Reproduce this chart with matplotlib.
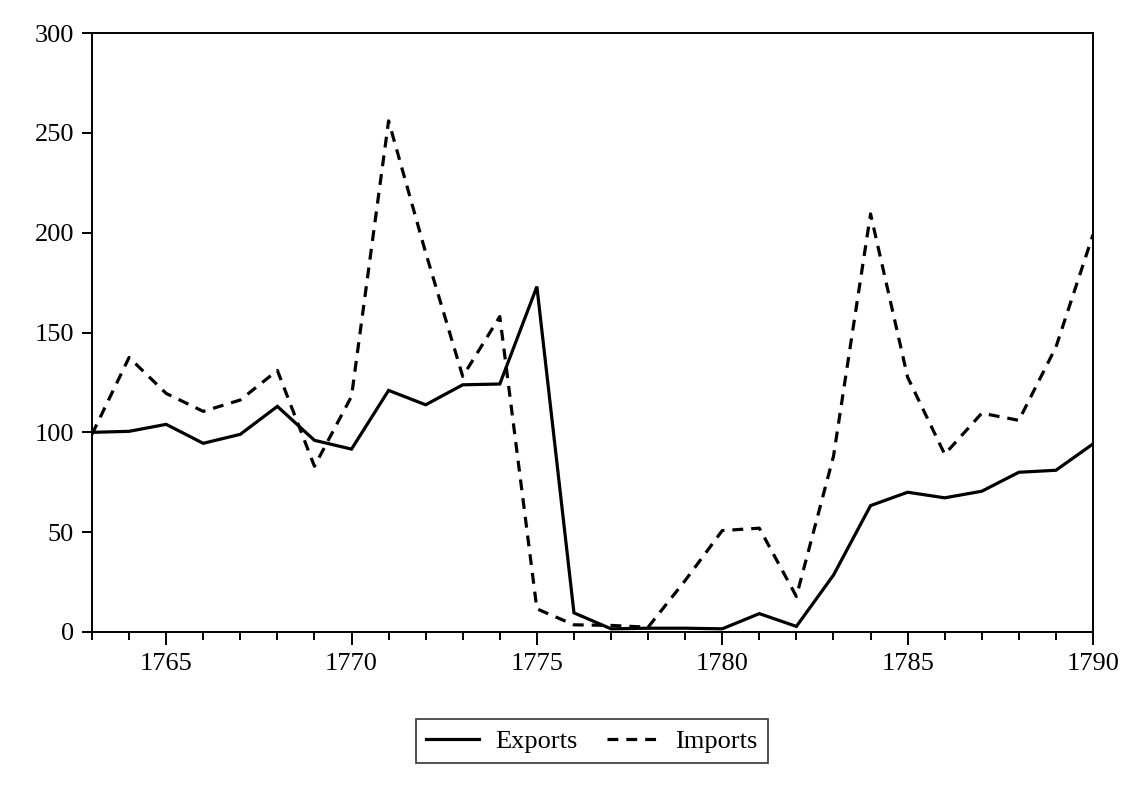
import matplotlib
matplotlib.use("Agg")
import matplotlib.pyplot as plt
from matplotlib.ticker import MultipleLocator

years = list(range(1763, 1791))
exports = [100, 100.5, 104, 94.5, 99, 113, 96, 91.6, 121, 113.8, 123.8, 124.2, 173,
           9.6, 1.6, 1.9, 1.9, 1.6, 9.2, 2.8, 28.5, 63.3, 70, 67.2, 70.5, 80, 81, 94.2]
imports = [99, 137.5, 119.5, 110.5, 116.2, 131, 83, 118, 256, 190, 128, 158, 11.6,
           3.6, 3.3, 2.4, 25.8, 50.8, 52, 17.8, 88, 209.4, 127.6, 89, 109.6, 106, 142.7, 199]

plt.rcParams['font.family'] = ['Liberation Serif', 'DejaVu Serif']

fig = plt.figure(figsize=(11.4, 7.85), dpi=100)
ax = fig.add_axes([92/1140, 1-632/785, (1093-92)/1140, (632-33)/785])

lw = 2.3
ax.plot(years, exports, color='black', lw=lw, solid_joinstyle='miter', label='Exports')
ax.plot(years, imports, color='black', lw=lw, linestyle=(0, (3.4, 2.5)), label='Imports')

ax.set_xlim(1763, 1790)
ax.set_ylim(0, 300)
ax.xaxis.set_major_locator(MultipleLocator(5))
ax.xaxis.set_minor_locator(MultipleLocator(1))
ax.yaxis.set_major_locator(MultipleLocator(50))

for s in ax.spines.values():
    s.set_linewidth(1.4)
ax.tick_params(axis='both', which='major', labelsize=19, direction='out', width=1.4)
ax.tick_params(axis='x', which='major', length=9, pad=6)
ax.tick_params(axis='x', which='minor', length=5.5, width=1.4, direction='out')
ax.tick_params(axis='y', which='major', length=7, pad=6)

leg = fig.legend(loc='center', bbox_to_anchor=(592/1140, 1-741/785), ncol=2,
                 fontsize=19, frameon=True, fancybox=False, edgecolor='black',
                 handlelength=2.0, handletextpad=0.6, columnspacing=1.1,
                 borderpad=0.38)
leg.get_frame().set_linewidth(1.2)

fig.savefig('out.png', dpi=100)
